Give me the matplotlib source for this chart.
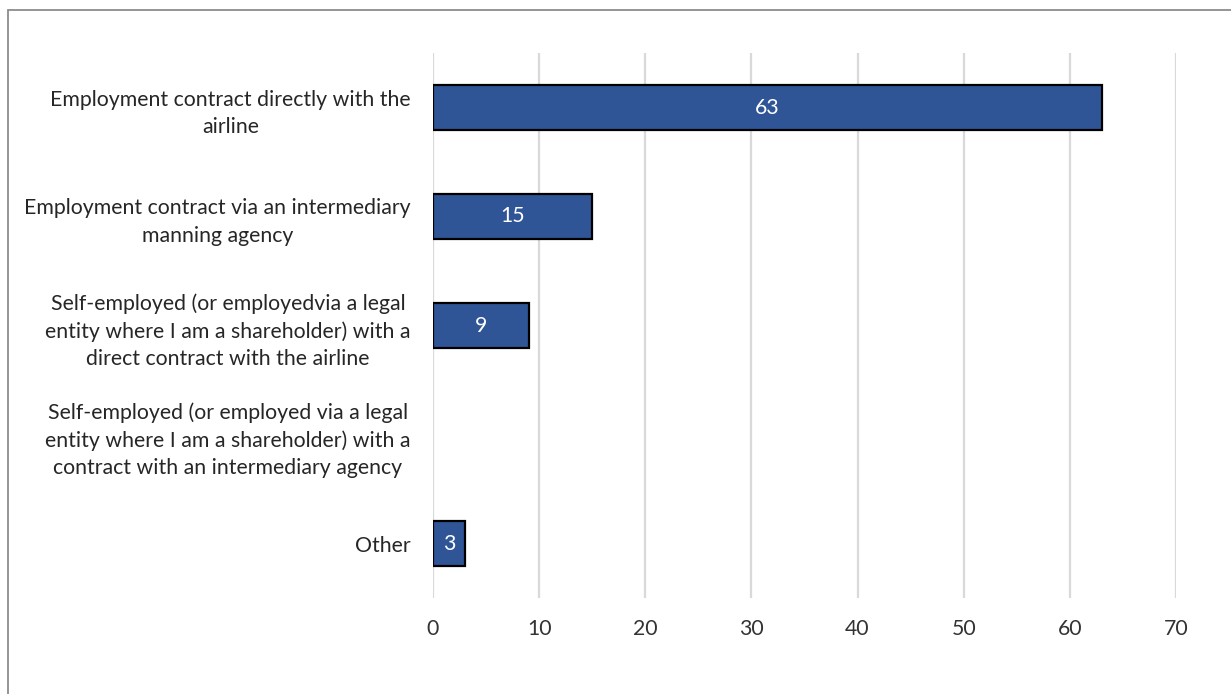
import matplotlib
matplotlib.use("Agg")
import matplotlib.pyplot as plt
from matplotlib.patches import Rectangle

categories = [
    "Employment contract directly with the\nairline",
    "Employment contract via an intermediary\nmanning agency",
    "Self-employed (or employedvia a legal\nentity where I am a shareholder) with a\ndirect contract with the airline",
    "Self-employed (or employed via a legal\nentity where I am a shareholder) with a\ncontract with an intermediary agency",
    "Other",
]
values = [63, 15, 9, 0, 3]
value_labels = ["63", "15", "9", "", "3"]
x_ticks = [0, 10, 20, 30, 40, 50, 60, 70]

W, H = 1231, 694
fig = plt.figure(figsize=(W / 100, H / 100), dpi=100)
fig.patch.set_facecolor("white")

# outer chart frame
fig.add_artist(Rectangle((8 / W, -0.05), 1.2, 1 - 10 / H + 0.05,
                         transform=fig.transFigure, fill=False,
                         edgecolor="#8c8c8c", linewidth=1.3))

ax = fig.add_axes([433 / W, 1 - 598 / H, (1176 - 433) / W, (598 - 53) / H])

font = "Lato"
fs = 15.3
ypos = list(range(len(categories)))
edge_widths = [1.6 if v > 0 else 0 for v in values]
ax.barh(ypos, values, height=0.41, color="#2F5597", edgecolor="black",
        linewidth=edge_widths, zorder=3)
for y, v, lab in zip(ypos, values, value_labels):
    if lab:
        ax.text(v / 2, y, lab, ha="center", va="center", color="white",
                fontsize=fs, family=font, zorder=4)

ax.set_xlim(0, 70)
ax.set_ylim(len(categories) - 0.5, -0.5)
ax.set_xticks(x_ticks)
ax.set_xticklabels([str(t) for t in x_ticks], family=font, fontsize=fs,
                   color="#333333")
ax.set_yticks(ypos)
ax.set_yticklabels(categories, family=font, fontsize=fs, color="#262626",
                   multialignment="center", linespacing=1.45)
ax.tick_params(axis="both", length=0)
ax.tick_params(axis="x", pad=15)
ax.tick_params(axis="y", pad=16)
ax.grid(axis="x", color="#d9d9d9", linewidth=1.6, zorder=0)
ax.set_axisbelow(True)
for s in ax.spines.values():
    s.set_visible(False)

fig.savefig("out.png", dpi=100, facecolor="white")
